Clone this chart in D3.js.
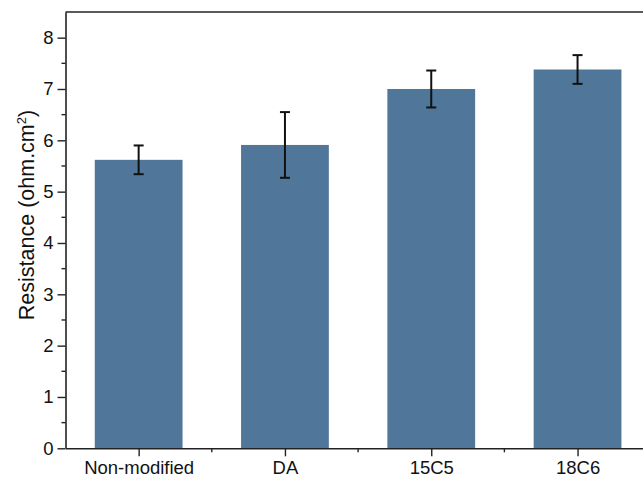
<!DOCTYPE html>
<html>
<head>
<meta charset="utf-8">
<script src="https://cdn.jsdelivr.net/npm/d3@7"></script>
<style>
  body { margin: 0; background: #fff; }
  text { font-family: "Liberation Sans", Arial, sans-serif; fill: #111; }
</style>
</head>
<body>
<svg id="chart" width="643" height="479"></svg>
<script>
// data
const categories = ["Non-modified", "DA", "15C5", "18C6"];
const resistance = [5.62, 5.91, 7.00, 7.38];
const errors = [0.28, 0.64, 0.36, 0.28];
const yTicks = [0, 1, 2, 3, 4, 5, 6, 7, 8];

const svg = d3.select("#chart");
const margin = {left: 65.5, top: 12, bottom: 448.3};
const step = 146.3;

// x over category index; plot runs past the right edge (cropped like the original)
const x = d3.scaleLinear().domain([0.5, 4.5]).range([margin.left, margin.left + 4 * step]);
const y = d3.scaleLinear().domain([0, 8.5]).range([margin.bottom, margin.top]);
const barW = step * 0.6;

const data = categories.map((c, i) => ({cat: c, idx: i + 1, val: resistance[i], err: errors[i]}));

// bars
svg.selectAll("rect.bar")
  .data(data)
  .join("rect")
  .attr("class", "bar")
  .attr("x", d => x(d.idx) - barW / 2)
  .attr("width", barW)
  .attr("y", d => y(d.val))
  .attr("height", d => y(0) - y(d.val))
  .attr("fill", "#507799");

// error bars
const eb = svg.selectAll("g.err").data(data).join("g").attr("class", "err")
  .attr("stroke", "#111").attr("stroke-width", 2);
eb.append("line")
  .attr("x1", d => x(d.idx)).attr("x2", d => x(d.idx))
  .attr("y1", d => y(d.val + d.err)).attr("y2", d => y(d.val - d.err));
eb.append("line")
  .attr("x1", d => x(d.idx) - 5).attr("x2", d => x(d.idx) + 5)
  .attr("y1", d => y(d.val + d.err)).attr("y2", d => y(d.val + d.err));
eb.append("line")
  .attr("x1", d => x(d.idx) - 5).attr("x2", d => x(d.idx) + 5)
  .attr("y1", d => y(d.val - d.err)).attr("y2", d => y(d.val - d.err));

// top frame line
svg.append("line")
  .attr("x1", margin.left).attr("x2", x(4.5))
  .attr("y1", y(8.5)).attr("y2", y(8.5))
  .attr("stroke", "#222").attr("stroke-width", 1.6);

// y axis
const yAxis = d3.axisLeft(y).tickValues(yTicks).tickSize(8).tickSizeOuter(0).tickPadding(4)
  .tickFormat(d3.format("d"));
const gy = svg.append("g").attr("transform", `translate(${margin.left},0)`).call(yAxis);
gy.select(".domain").attr("stroke", "#222").attr("stroke-width", 1.6);
gy.selectAll(".tick line").attr("stroke", "#222").attr("stroke-width", 1.4);
gy.selectAll(".tick text").style("font-size", "18.5px").attr("fill", "#111");
// minor y ticks
svg.append("g").selectAll("line")
  .data(d3.range(0.5, 8.5, 1))
  .join("line")
  .attr("x1", margin.left - 4).attr("x2", margin.left)
  .attr("y1", d => y(d)).attr("y2", d => y(d))
  .attr("stroke", "#222").attr("stroke-width", 1.4);

// x axis
const xAxis = d3.axisBottom(x).tickValues([1, 2, 3, 4]).tickSize(8).tickSizeOuter(0).tickPadding(5)
  .tickFormat(d => categories[d - 1]);
const gx = svg.append("g").attr("transform", `translate(0,${margin.bottom})`).call(xAxis);
gx.select(".domain").attr("stroke", "#222").attr("stroke-width", 1.6);
gx.selectAll(".tick line").attr("stroke", "#222").attr("stroke-width", 1.4);
gx.selectAll(".tick text").style("font-size", "18.5px").attr("fill", "#111");
// minor x ticks
svg.append("g").selectAll("line")
  .data([1.5, 2.5, 3.5])
  .join("line")
  .attr("x1", d => x(d)).attr("x2", d => x(d))
  .attr("y1", margin.bottom).attr("y2", margin.bottom + 4)
  .attr("stroke", "#222").attr("stroke-width", 1.4);

// y label
const yl = svg.append("text")
  .attr("transform", "translate(34,215) rotate(-90)")
  .attr("text-anchor", "middle")
  .style("font-size", "21.5px");
yl.append("tspan").text("Resistance (ohm.cm");
yl.append("tspan").text("2").attr("dy", -8).style("font-size", "13px");
yl.append("tspan").text(")").attr("dy", 8);
</script>
</body>
</html>
